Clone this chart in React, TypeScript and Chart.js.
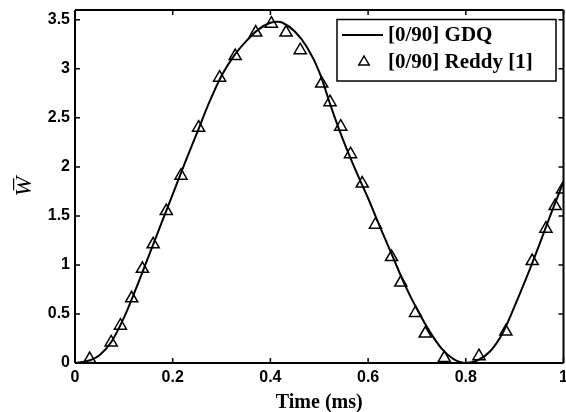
import React, { useEffect, useRef } from 'react';
import { Chart, registerables } from 'chart.js';

Chart.register(...registerables);

// GDQ solution (solid line)
const gdqTime = [0, 0.025, 0.05, 0.075, 0.1, 0.125, 0.15, 0.175, 0.2, 0.225, 0.25, 0.275, 0.3, 0.325, 0.35, 0.375, 0.4, 0.415, 0.425, 0.45, 0.475, 0.5, 0.525, 0.55, 0.575, 0.6, 0.625, 0.65, 0.675, 0.7, 0.725, 0.75, 0.775, 0.8, 0.825, 0.85, 0.875, 0.9, 0.925, 0.95, 0.975, 1.0];
const gdqW = [0, 0.02, 0.08, 0.22, 0.46, 0.76, 1.08, 1.40, 1.72, 2.04, 2.35, 2.66, 2.93, 3.13, 3.28, 3.40, 3.47, 3.48, 3.47, 3.38, 3.22, 2.97, 2.60, 2.26, 1.96, 1.68, 1.38, 1.09, 0.80, 0.55, 0.33, 0.15, 0.04, 0.0, 0.03, 0.12, 0.30, 0.58, 0.88, 1.20, 1.53, 1.85];

// Reddy [1] reference (triangles)
const reddyTime = [0.030, 0.074, 0.093, 0.116, 0.138, 0.160, 0.187, 0.217, 0.253, 0.296, 0.328, 0.370, 0.402, 0.432, 0.461, 0.505, 0.522, 0.544, 0.564, 0.588, 0.615, 0.648, 0.667, 0.697, 0.717, 0.756, 0.827, 0.882, 0.936, 0.964, 0.983, 0.998];
const reddyW = [0.04, 0.21, 0.38, 0.66, 0.96, 1.21, 1.55, 1.91, 2.40, 2.91, 3.13, 3.37, 3.46, 3.37, 3.19, 2.85, 2.66, 2.41, 2.13, 1.83, 1.41, 1.08, 0.82, 0.51, 0.30, 0.05, 0.07, 0.32, 1.04, 1.37, 1.60, 1.77];

const xTicks = [0, 0.2, 0.4, 0.6, 0.8, 1];
const yTicks = [0, 0.5, 1, 1.5, 2, 2.5, 3, 3.5];
const seriesLabels = ['[0/90] GDQ', '[0/90] Reddy [1]'];
const xTitle = 'Time (ms)';
const yTitle = 'W\u0305';

const frameLegendPlugin = {
  id: 'frameLegend',
  afterDraw(chart: any) {
    const { ctx, chartArea } = chart;
    const { left, right, top, bottom } = chartArea;
    const xs = chart.scales.x;
    const ys = chart.scales.y;
    ctx.save();
    ctx.strokeStyle = '#000';
    ctx.lineWidth = 2;
    ctx.beginPath();
    ctx.moveTo(left, top); ctx.lineTo(right, top);
    ctx.moveTo(left, bottom); ctx.lineTo(right, bottom);
    ctx.moveTo(left, top); ctx.lineTo(left, bottom);
    ctx.moveTo(right, top); ctx.lineTo(right, bottom);
    ctx.stroke();
    ctx.lineWidth = 1.5;
    ctx.beginPath();
    xTicks.forEach((v) => {
      const px = xs.getPixelForValue(v);
      ctx.moveTo(px, bottom); ctx.lineTo(px, bottom - 5);
      ctx.moveTo(px, top); ctx.lineTo(px, top + 5);
    });
    yTicks.forEach((v) => {
      const py = ys.getPixelForValue(v);
      ctx.moveTo(left, py); ctx.lineTo(left + 5, py);
      ctx.moveTo(right, py); ctx.lineTo(right - 5, py);
    });
    ctx.stroke();

    // legend box
    const bx = 337, by = 19.5, bw = 219, bh = 61.5;
    ctx.fillStyle = '#fff';
    ctx.fillRect(bx, by, bw, bh);
    ctx.lineWidth = 1.5;
    ctx.strokeRect(bx, by, bw, bh);
    ctx.lineWidth = 2;
    ctx.beginPath();
    ctx.moveTo(342, 35); ctx.lineTo(383, 35);
    ctx.stroke();
    ctx.lineWidth = 1.5;
    const tx = 364, ty = 62, r = 6;
    ctx.beginPath();
    ctx.moveTo(tx, ty - r);
    ctx.lineTo(tx + r * 0.866, ty + r * 0.5);
    ctx.lineTo(tx - r * 0.866, ty + r * 0.5);
    ctx.closePath();
    ctx.stroke();
    ctx.fillStyle = '#000';
    ctx.font = 'bold 21px "Liberation Serif", serif';
    ctx.textAlign = 'left';
    ctx.textBaseline = 'middle';
    ctx.fillText(seriesLabels[0], 388, 36);
    ctx.fillText(seriesLabels[1], 388, 63);
    ctx.restore();
  },
};

export default function App() {
  const ref = useRef<HTMLCanvasElement>(null);
  useEffect(() => {
    if (!ref.current) return;
    const chart = new Chart(ref.current, {
      type: 'scatter',
      data: {
        datasets: [
          {
            label: seriesLabels[0],
            data: gdqTime.map((t, i) => ({ x: t, y: gdqW[i] })),
            showLine: true,
            borderColor: '#000',
            borderWidth: 2,
            pointRadius: 0,
            cubicInterpolationMode: 'monotone',
            fill: false,
          },
          {
            label: seriesLabels[1],
            data: reddyTime.map((t, i) => ({ x: t, y: reddyW[i] })),
            showLine: false,
            pointStyle: 'triangle',
            pointRadius: 7,
            pointBorderWidth: 1.5,
            pointBorderColor: '#000',
            pointBackgroundColor: 'rgba(0,0,0,0)',
          },
        ],
      },
      options: {
        responsive: false,
        animation: false,
        layout: { padding: { left: 0, top: 10, right: 3.5, bottom: 0 } },
        plugins: { legend: { display: false }, tooltip: { enabled: false } },
        scales: {
          x: {
            type: 'linear',
            min: 0,
            max: 1,
            grid: { display: false, drawTicks: false },
            border: { display: false },
            afterBuildTicks: (s: any) => { s.ticks = xTicks.map((v) => ({ value: v })); },
            afterFit: (s: any) => { s.height = 49; s.paddingLeft = 0; s.paddingRight = 0; },
            ticks: {
              color: '#000',
              padding: 5,
              maxRotation: 0,
              font: { family: '"Liberation Sans", Arial, sans-serif', size: 16, weight: 'bold' },
              callback: (v: any) => String(v),
            },
            title: {
              display: true,
              text: xTitle,
              color: '#000',
              font: { family: '"Liberation Serif", serif', size: 20, weight: 'bold', lineHeight: 0.9 },
              padding: { top: 0, bottom: 0 },
            },
          },
          y: {
            type: 'linear',
            min: 0,
            max: 3.6,
            grid: { display: false, drawTicks: false },
            border: { display: false },
            afterBuildTicks: (s: any) => { s.ticks = yTicks.map((v) => ({ value: v })); },
            afterFit: (s: any) => { s.width = 75; s.paddingTop = 0; s.paddingBottom = 0; },
            ticks: {
              color: '#000',
              padding: 5,
              font: { family: '"Liberation Sans", Arial, sans-serif', size: 16, weight: 'bold' },
              callback: (v: any) => String(v),
            },
            title: {
              display: true,
              text: yTitle,
              color: '#000',
              font: { family: '"Liberation Serif", serif', size: 24, style: 'italic', lineHeight: 1.2 },
              padding: { top: 10, bottom: 0 },
            },
          },
        },
      },
      plugins: [frameLegendPlugin],
    });
    return () => chart.destroy();
  }, []);
  return (
    <div style={{ position: 'fixed', left: 0, top: 0, width: 566, height: 412, overflow: 'hidden', background: '#fff' }}>
      <canvas ref={ref} width={572} height={412} />
    </div>
  );
}
